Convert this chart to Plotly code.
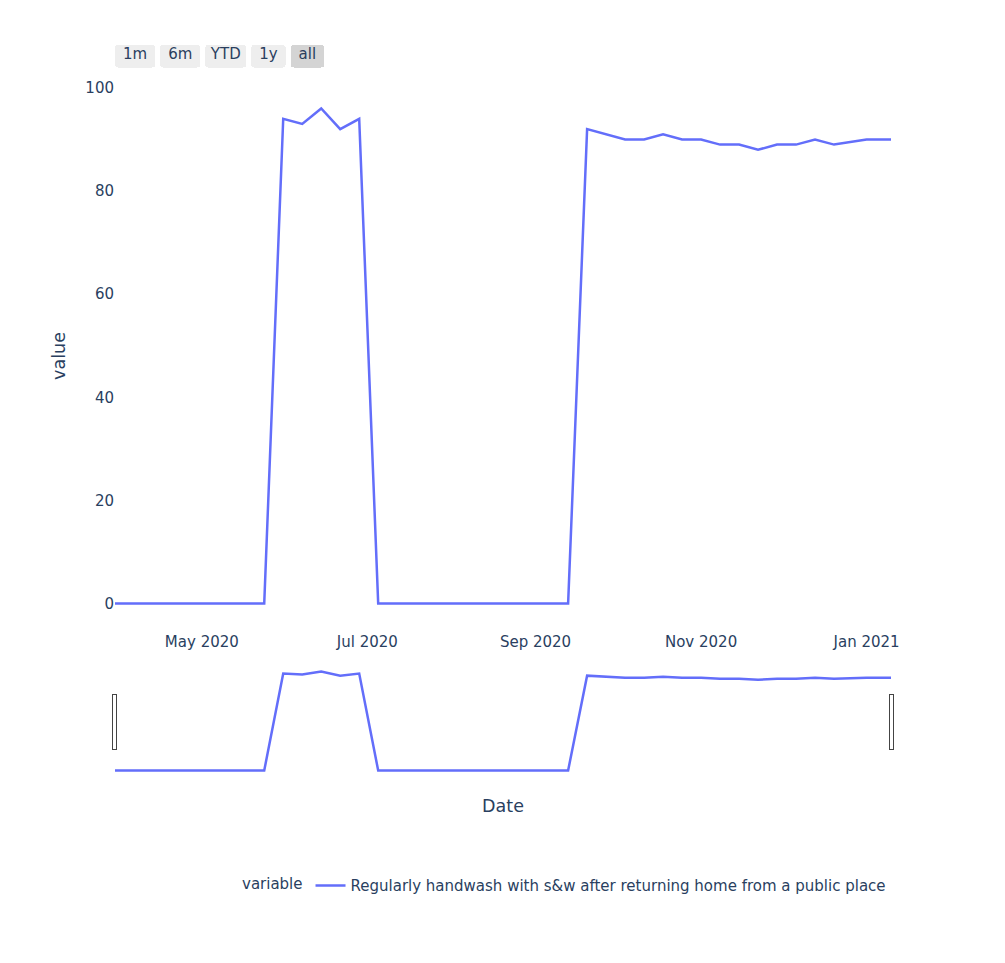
import plotly.express as px
import pandas as pd

# weekly survey dates
dates = ["2020-03-30", "2020-04-05", "2020-04-12", "2020-04-19", "2020-04-26",
         "2020-05-03", "2020-05-10", "2020-05-17", "2020-05-24", "2020-05-31",
         "2020-06-07", "2020-06-14", "2020-06-21", "2020-06-28", "2020-07-05",
         "2020-07-12", "2020-07-19", "2020-07-26", "2020-08-02", "2020-08-09",
         "2020-08-16", "2020-08-23", "2020-08-30", "2020-09-06", "2020-09-13",
         "2020-09-20", "2020-09-27", "2020-10-04", "2020-10-11", "2020-10-18",
         "2020-10-25", "2020-11-01", "2020-11-08", "2020-11-15", "2020-11-22",
         "2020-11-29", "2020-12-06", "2020-12-13", "2020-12-20", "2021-01-01",
         "2021-01-10"]
handwash = [0, 0, 0, 0, 0, 0, 0, 0, 0, 94,
            93, 96, 92, 94, 0, 0, 0, 0, 0, 0,
            0, 0, 0, 0, 0, 92, 91, 90, 90, 91,
            90, 90, 89, 89, 88, 89, 89, 90, 89, 90,
            90]
series_name = "Regularly handwash with s&w after returning home from a public place"

df = pd.DataFrame({"Date": pd.to_datetime(dates), series_name: handwash})
df = df.melt(id_vars="Date")

fig = px.line(df, x="Date", y="value", color="variable",
              template="plotly_white")
fig.update_traces(line_width=2.5)

# thin-space padding so the small buttons come out as wide as in the original
sp = "\u2009"
fig.update_xaxes(
    showgrid=False,
    dtick="M2", tick0="2020-01-01", tickformat="%b %Y",
    title_font_size=17.5,
    rangeslider=dict(visible=True, thickness=0.2),
    rangeselector=dict(font_size=15, y=1.025, yanchor="bottom", buttons=[
        dict(count=1, label=sp + "1m" + sp, step="month", stepmode="backward"),
        dict(count=6, label=sp + "6m" + sp, step="month", stepmode="backward"),
        dict(count=1, label="YTD", step="year", stepmode="todate"),
        dict(count=1, label=sp + "1y" + sp, step="year", stepmode="backward"),
        dict(step="all", label=sp + "all" + sp),
    ]),
)
fig.update_yaxes(showgrid=False, zeroline=False, title_font_size=17.5)
fig.update_layout(
    width=989, height=947,
    font=dict(family="DejaVu Sans", size=15),
    margin=dict(l=107, r=106, t=73, b=324, autoexpand=False),
    legend=dict(orientation="h", x=1, xanchor="right", y=-0.433, yanchor="top",
                title_font_size=15),
)

fig.write_html("out.html")
